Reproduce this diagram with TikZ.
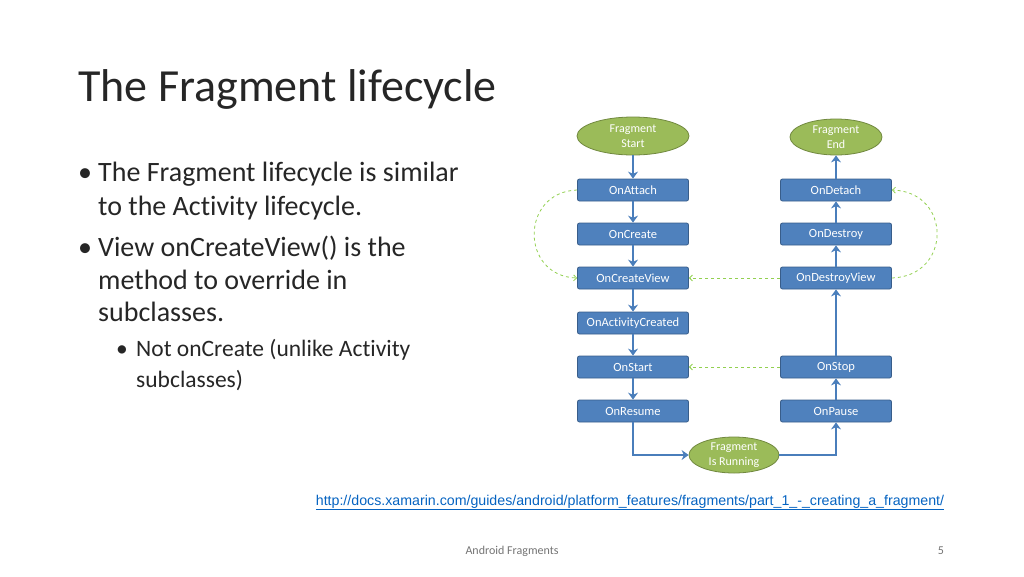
\documentclass[tikz,border=0pt]{standalone}
\usepackage{fontspec}
\setmainfont{Carlito}[Ligatures=NoCommon]
\newfontfamily\arialf{Liberation Sans}
\usetikzlibrary{arrows.meta,shapes.geometric}
\definecolor{boxblue}{HTML}{4F81BD}
\definecolor{boxedge}{HTML}{385D8A}
\definecolor{elgreen}{HTML}{9BBB59}
\definecolor{eledge}{HTML}{71893F}
\definecolor{arrblue}{HTML}{4A7EBB}
\definecolor{dashgreen}{HTML}{92D050}
\definecolor{urlblue}{HTML}{0563C1}
\begin{document}
\begin{tikzpicture}[x=1pt,y=-1pt,
  stepbox/.style={draw=boxedge,fill=boxblue,rounded corners=2pt,minimum width=111pt,minimum height=22pt,text=white,font=\fontsize{12.5}{13}\selectfont,line width=0.8pt},
  ovalnode/.style={draw=eledge,fill=elgreen,ellipse,text=white,font=\fontsize{12}{15}\selectfont,align=center,line width=0.8pt,inner sep=0pt},
  flow/.style={draw=arrblue,line width=2.6pt,-{Stealth[length=7pt,width=10pt]}},
  back/.style={draw=dashgreen,dashed,line width=0.8pt,-{Straight Barb[length=3pt]}},
  bl/.style={anchor=base west,inner sep=0pt,text=black!85,font=\fontsize{28}{32}\selectfont},
  sbl/.style={anchor=base west,inner sep=0pt,text=black!85,font=\fontsize{23.5}{28}\selectfont}]
\useasboundingbox (0,0) rectangle (1024,576);
\node[anchor=base west,inner sep=0pt,font=\fontsize{46}{52}\selectfont,text=black!85] (title) at (78,101) {The Fragment lifecycle};
\node[bl] (d1) at (78,181) {\textbullet};
\node[bl] (l1) at (98,181) {The Fragment lifecycle is similar};
\node[bl] (l2) at (98,215) {to the Activity lifecycle.};
\node[bl] (d2) at (78,256) {\textbullet};
\node[bl] (l3) at (98,256) {View onCreateView() is the};
\node[bl] (l4) at (98,289) {method to override in};
\node[bl] (l5) at (98,321) {subclasses.};
\node[sbl] (d3) at (116,356) {\textbullet};
\node[sbl] (l6) at (136,356) {Not onCreate (unlike Activity};
\node[sbl] (l7) at (136,387) {subclasses)};
\node[ovalnode,minimum width=112pt,minimum height=38pt] (start) at (633,136) {Fragment\\Start};
\node[ovalnode,minimum width=92pt,minimum height=36pt] (end) at (836,137) {Fragment\\End};
\node[ovalnode,minimum width=90pt,minimum height=36pt] (run) at (734,455) {Fragment\\Is Running};
\node[stepbox] (attach) at (633,190) {OnAttach};
\node[stepbox] (create) at (633,234) {OnCreate};
\node[stepbox] (cview) at (633,278) {OnCreateView};
\node[stepbox] (acreated) at (633,323) {OnActivityCreated};
\node[stepbox] (startb) at (633,367) {OnStart};
\node[stepbox] (resume) at (633,411) {OnResume};
\node[stepbox] (detach) at (836,190) {OnDetach};
\node[stepbox] (destroy) at (836,234) {OnDestroy};
\node[stepbox] (dview) at (836,278) {OnDestroyView};
\node[stepbox] (stop) at (836,367) {OnStop};
\node[stepbox] (pause) at (836,411) {OnPause};
\draw[flow] (start) -- (attach);
\draw[flow] (attach) -- (create);
\draw[flow] (create) -- (cview);
\draw[flow] (cview) -- (acreated);
\draw[flow] (acreated) -- (startb);
\draw[flow] (startb) -- (resume);
\draw[flow] (resume.south) |- (run.west);
\draw[flow] (run.east) -| (pause.south);
\draw[flow] (pause) -- (stop);
\draw[flow] (stop) -- (dview);
\draw[flow] (dview) -- (destroy);
\draw[flow] (destroy) -- (detach);
\draw[flow] (detach) -- (end);
\draw[back] (dview.west) -- (cview.east);
\draw[back] (stop.west) -- (startb.east);
\draw[back] (attach.west) .. controls (520,192) and (520,276) .. (cview.west);
\draw[back] (dview.east) .. controls (952,276) and (952,192) .. (detach.east);
\node[font=\arialf\fontsize{14.2}{16}\selectfont,text=urlblue,anchor=base] (url) at (630,505) {\underline{http://docs.xamarin.com/guides/android/platform\_features/fragments/part\_1\_-\_creating\_a\_fragment/}};
\node[font=\fontsize{12}{14}\selectfont,text=black!55,anchor=base] (foot) at (512,554) {Android Fragments};
\node[font=\fontsize{12}{14}\selectfont,text=black!55,anchor=base] (num) at (941,554) {5};
\end{tikzpicture}
\end{document}
